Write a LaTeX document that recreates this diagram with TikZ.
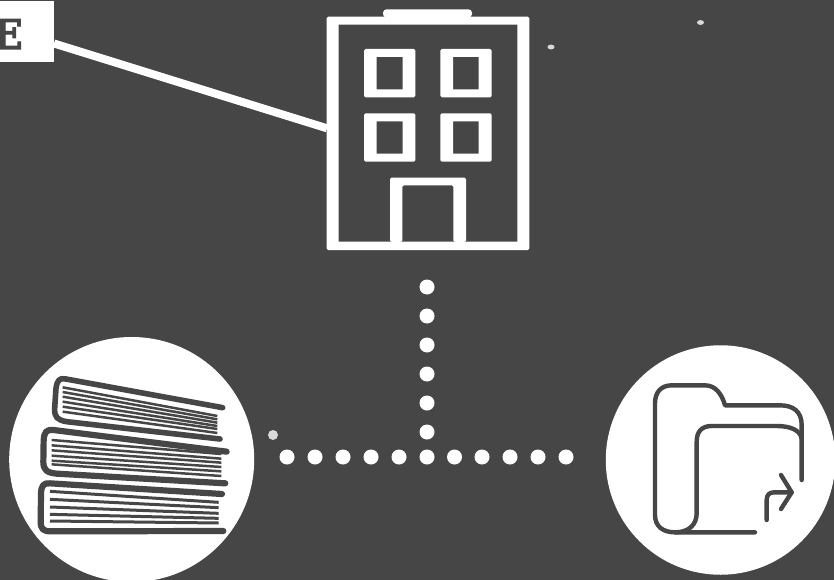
\documentclass[tikz,border=0pt]{standalone}
\usepackage{fontspec}
\newfontfamily\slabfont[BoldFeatures={FakeBold=2.5}]{DejaVu Serif}
\definecolor{bgc}{HTML}{464646}
\tikzset{
  dotn/.style={circle,fill=white,draw=none,inner sep=0pt,minimum size=15pt},
  speck/.style={fill=white,opacity=.8,draw=none},
  wfill/.style={fill=white,draw=none,even odd rule,rounded corners=1.5pt},
  iconline/.style={draw=bgc,line width=4.4pt,line cap=round,line join=round},
  cover/.style={draw=bgc,line width=5.6pt,line cap=round,line join=round},
  page/.style={draw=bgc,line width=2.5pt,line cap=butt},
  disc/.style={circle,fill=white,draw=none,inner sep=0pt}
}
\begin{document}
\begin{tikzpicture}[x=1pt,y=-1pt]
\clip (0,0) rectangle (834,580);
\fill[bgc] (0,0) rectangle (834,580);
% specks
\fill[speck] (551,47) ellipse (3.5pt and 2.4pt);
\fill[speck] (700.5,22.5) ellipse (3.5pt and 2.4pt);
\fill[speck] (273,435) circle (5pt);
% label box
\node[fill=white,draw=none,inner sep=0pt,minimum width=80pt,minimum height=61.5pt,anchor=north east] (labelbox) at (54,0.8) {};
\node[anchor=base east,inner sep=0pt,text=bgc,font=\slabfont\bfseries\fontsize{41}{41}\selectfont] (labeltext) at (23,49) {E};
% building
\node[draw=none,inner sep=0pt,minimum width=202.6pt,minimum height=233.3pt,anchor=north west] (building) at (326.7,16.7) {};
\coordinate (boxend) at (54,43.5);
\coordinate (buildend) at (327,128.3);
\draw[white,line width=8pt] (boxend) -- (buildend);
\fill[wfill] (326.7,16.7) rectangle (529.3,250)
   [sharp corners] (338.7,24.7) rectangle (517.3,241.7);
\fill[white,rounded corners=3.5pt] (383,9.3) rectangle (472,17.5);
\foreach \xa/\xb/\xc/\xd in {364/376.7/402.7/415.3,440.3/453/478.7/491.7}{
  \fill[wfill] (\xa,49) rectangle (\xd,97.3) [sharp corners] (\xb,57) rectangle (\xc,89.3);
  \fill[wfill] (\xa,113.3) rectangle (\xd,161.7) [sharp corners] (\xb,121.3) rectangle (\xc,153.7);
}
\fill[white,rounded corners=1.5pt] (390,242) |- (466,177.7) -- (466,242) -- (453.3,242) -- (453.3,185.3) -- (402.3,185.3) -- (402.3,242) -- cycle;
% dots
\foreach \y [count=\i] in {287,316,345,374,403,432}{ \node[dotn] (v\i) at (427,\y) {}; }
\foreach \x [count=\i] in {287,315,343,371,399,427,454.5,482,510,538,566}{ \node[dotn] (h\i) at (\x,457) {}; }
% circles
\node[disc,minimum size=245pt] (booksc) at (131.7,459.5) {};
\node[disc,minimum size=229.5pt] (folderc) at (720.5,460) {};
% books
\begin{scope}[shift={(0,330)},x=.33333pt,y=-.33333pt]
 % top book
 \foreach \a/\b in {172/258,186/268,200/278,215/288,230/297,245/309}{
   \draw[page] (188,\a) -- (652,\b);}
 \draw[cover] (668,233) -- (198,147) .. controls (178,143) and (172,150) .. (168,175) -- (164,235) .. controls (163,262) and (172,270) .. (200,275) -- (660,327);
 % middle book
 \foreach \a/\b in {330/372,346/386,361/398,377/411,392/424,403/438}{
   \draw[page] (155,\a) -- (664,\b);}
 \draw[cover,line width=6.2pt] (680,365) -- (160,300) .. controls (140,298) and (133,305) .. (131,330) -- (130,395) .. controls (130,420) and (140,428) .. (170,431) -- (676,460);
 % bottom book
 \foreach \a/\b in {484/517,508/533,531/550,553/565,573/579}{
   \draw[page,line width=3pt] (150,\a) -- (656,\b);}
 \draw[cover,line width=6.2pt] (666,492) -- (150,460) .. controls (130,458) and (124,468) .. (123,490) -- (122,575) .. controls (122,597) and (130,604) .. (152,604) -- (670,603);
\end{scope}
% folder
\begin{scope}[shift={(590,330)},x=.33333pt,y=-.33333pt]
 \draw[iconline] (635,450) -- (635,285) .. controls (635,245) and (610,226) .. (570,226) -- (405,226)
   .. controls (395,190) and (375,166) .. (345,166) -- (245,166) .. controls (215,166) and (195,185) .. (195,220)
   -- (195,555) .. controls (195,590) and (220,607) .. (255,607) -- (495,607);
 \draw[iconline] (255,607) .. controls (295,607) and (320,585) .. (320,550) -- (320,335) .. controls (320,305) and (335,288) .. (365,288) -- (560,288) .. controls (600,288) and (630,300) .. (635,325);
 \draw[iconline] (573,435) -- (605,487) -- (573,537);
 \draw[iconline] (605,487) -- (552,487) .. controls (538,487) and (530,495) .. (530,510) -- (530,570);
\end{scope}
\end{tikzpicture}
\end{document}
